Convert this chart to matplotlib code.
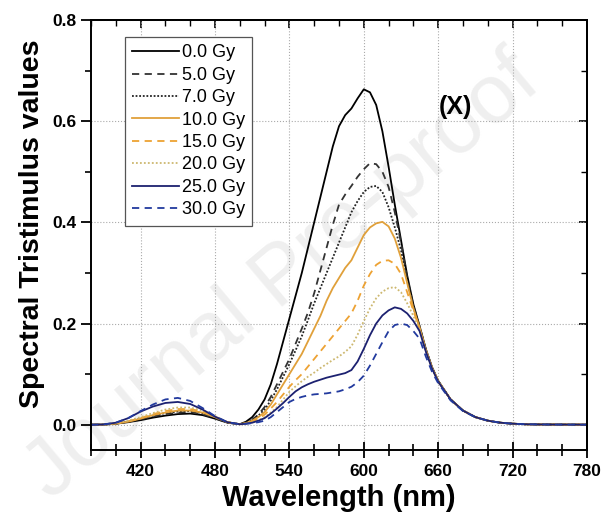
import numpy as np
import matplotlib.pyplot as plt
from matplotlib.ticker import MultipleLocator

plt.rcParams['font.family'] = ['Liberation Sans', 'DejaVu Sans']

# wavelength grid (nm): 10 nm in the blue lobe, 5 nm across the main peak, 10 nm in the tail
wl = list(range(380, 500, 10)) + list(range(500, 665, 5)) + list(range(670, 790, 10))

gy_0 = [0, 0.0003, 0.002, 0.005, 0.009, 0.014, 0.018, 0.021, 0.022, 0.019, 0.012, 0.004,
        0.001, 0.006, 0.015, 0.03, 0.05, 0.08, 0.12, 0.165, 0.21, 0.255,
        0.30, 0.35, 0.40, 0.45, 0.50, 0.55, 0.59, 0.612, 0.625, 0.645,
        0.663, 0.657, 0.632, 0.58, 0.51, 0.435, 0.365, 0.295, 0.238, 0.195,
        0.15, 0.114, 0.087,
        0.05, 0.028, 0.015, 0.008, 0.004, 0.002, 0.001, 0.0006, 0.0004, 0.0003, 0.0002, 0.0001]
gy_5 = [0, 0.0003, 0.002, 0.006, 0.011, 0.016, 0.021, 0.024, 0.025, 0.021, 0.013, 0.004,
        0.001, 0.004, 0.01, 0.02, 0.035, 0.055, 0.08, 0.105, 0.13, 0.16,
        0.19, 0.222, 0.26, 0.305, 0.35, 0.395, 0.435, 0.455, 0.472, 0.49,
        0.505, 0.517, 0.515, 0.5, 0.47, 0.42, 0.36, 0.29, 0.235, 0.194,
        0.149, 0.113, 0.086,
        0.05, 0.028, 0.015, 0.008, 0.004, 0.002, 0.001, 0.0006, 0.0004, 0.0003, 0.0002, 0.0001]
gy_7 = [0, 0.0003, 0.002, 0.006, 0.012, 0.018, 0.023, 0.026, 0.027, 0.023, 0.014, 0.005,
        0.001, 0.004, 0.01, 0.018, 0.03, 0.048, 0.07, 0.095, 0.12, 0.147,
        0.175, 0.207, 0.24, 0.27, 0.30, 0.33, 0.36, 0.39, 0.42, 0.442,
        0.46, 0.47, 0.472, 0.46, 0.43, 0.39, 0.345, 0.285, 0.232, 0.193,
        0.148, 0.113, 0.086,
        0.05, 0.028, 0.015, 0.008, 0.004, 0.002, 0.001, 0.0006, 0.0004, 0.0003, 0.0002, 0.0001]
gy_10 = [0, 0.0003, 0.002, 0.006, 0.012, 0.019, 0.024, 0.028, 0.028, 0.024, 0.015, 0.005,
         0.001, 0.003, 0.008, 0.015, 0.025, 0.04, 0.06, 0.08, 0.10, 0.12,
         0.14, 0.165, 0.19, 0.215, 0.245, 0.27, 0.29, 0.31, 0.325, 0.35,
         0.375, 0.39, 0.398, 0.401, 0.392, 0.368, 0.33, 0.28, 0.23, 0.192,
         0.148, 0.113, 0.086,
         0.05, 0.028, 0.015, 0.008, 0.004, 0.002, 0.001, 0.0006, 0.0004, 0.0003, 0.0002, 0.0001]
gy_15 = [0, 0.0004, 0.003, 0.007, 0.013, 0.021, 0.027, 0.031, 0.031, 0.026, 0.016, 0.005,
         0.001, 0.003, 0.006, 0.012, 0.02, 0.032, 0.045, 0.06, 0.075, 0.088,
         0.10, 0.115, 0.13, 0.145, 0.16, 0.175, 0.19, 0.205, 0.22, 0.245,
         0.275, 0.298, 0.316, 0.324, 0.325, 0.318, 0.298, 0.262, 0.225, 0.19,
         0.147, 0.112, 0.086,
         0.05, 0.028, 0.015, 0.008, 0.004, 0.002, 0.001, 0.0006, 0.0004, 0.0003, 0.0002, 0.0001]
gy_20 = [0, 0.0004, 0.003, 0.008, 0.015, 0.023, 0.03, 0.034, 0.034, 0.028, 0.017, 0.005,
         0.001, 0.002, 0.005, 0.009, 0.015, 0.024, 0.035, 0.05, 0.065, 0.076,
         0.086, 0.095, 0.103, 0.112, 0.12, 0.128, 0.135, 0.144, 0.155, 0.178,
         0.205, 0.23, 0.25, 0.263, 0.27, 0.272, 0.262, 0.24, 0.215, 0.187,
         0.146, 0.112, 0.086,
         0.05, 0.028, 0.015, 0.008, 0.004, 0.002, 0.001, 0.0006, 0.0004, 0.0003, 0.0002, 0.0001]
gy_25 = [0, 0.0005, 0.004, 0.013, 0.026, 0.036, 0.043, 0.045, 0.041, 0.03, 0.016, 0.005,
         0.001, 0.002, 0.004, 0.008, 0.013, 0.022, 0.032, 0.043, 0.055, 0.066,
         0.074, 0.08, 0.085, 0.089, 0.093, 0.096, 0.099, 0.102, 0.108, 0.125,
         0.15, 0.177, 0.2, 0.216, 0.226, 0.232, 0.229, 0.22, 0.205, 0.185,
         0.145, 0.111, 0.085,
         0.05, 0.028, 0.015, 0.008, 0.004, 0.002, 0.001, 0.0006, 0.0004, 0.0003, 0.0002, 0.0001]
gy_30 = [0, 0.0005, 0.004, 0.013, 0.027, 0.04, 0.05, 0.053, 0.047, 0.033, 0.017, 0.005,
         0.001, 0.002, 0.003, 0.005, 0.008, 0.015, 0.025, 0.035, 0.045, 0.051,
         0.055, 0.058, 0.06, 0.061, 0.062, 0.064, 0.066, 0.07, 0.075, 0.084,
         0.097, 0.117, 0.14, 0.163, 0.185, 0.197, 0.2, 0.197, 0.185, 0.17,
         0.135, 0.105, 0.082,
         0.048, 0.027, 0.015, 0.008, 0.004, 0.002, 0.001, 0.0006, 0.0004, 0.0003, 0.0002, 0.0001]

labels = ['0.0 Gy', '5.0 Gy', '7.0 Gy', '10.0 Gy', '15.0 Gy', '20.0 Gy', '25.0 Gy', '30.0 Gy']
series = [gy_0, gy_5, gy_7, gy_10, gy_15, gy_20, gy_25, gy_30]
colors = ['black', '#333333', '#222222', '#E0A03A', '#EDA233', '#CDB870', '#1C2170', '#223A9E']
styles = ['-', (0, (4, 3)), (0, (1, 1)), '-', (0, (4, 3)), (0, (1, 1.2)), '-', (0, (4, 3))]

fig = plt.figure(figsize=(6.01, 5.22), dpi=100)
ax = fig.add_axes([0.1514, 0.1379, 0.8253, 0.8238])
ax.patch.set_visible(False)

for y, lab, c, ls in zip(series, labels, colors, styles):
    ax.plot(wl, y, color=c, linestyle=ls, linewidth=1.3, label=lab)

ax.set_xlim(380, 780)
ax.set_ylim(-0.05, 0.8)
ax.xaxis.set_major_locator(MultipleLocator(60))
ax.xaxis.set_minor_locator(MultipleLocator(20))
ax.set_xticks([420, 480, 540, 600, 660, 720, 780])
ax.yaxis.set_major_locator(MultipleLocator(0.2))
ax.yaxis.set_minor_locator(MultipleLocator(0.1))
ax.set_yticks([0.0, 0.2, 0.4, 0.6, 0.8])
ax.set_yticklabels(['0.0', '0.2', '0.4', '0.6', '0.8'])

ax.tick_params(axis='x', which='major', direction='inout', length=12, width=1.3, labelsize=12.5, pad=4)
ax.tick_params(axis='x', which='minor', direction='inout', length=8, width=1.2)
ax.tick_params(axis='y', which='major', direction='out', length=7, width=1.3, labelsize=12.5)
ax.tick_params(axis='y', which='minor', direction='out', length=4, width=1.2)
for t in ax.get_xticklabels() + ax.get_yticklabels():
    t.set_fontweight('bold')

top = ax.secondary_xaxis('top')
top.xaxis.set_major_locator(MultipleLocator(60))
top.xaxis.set_minor_locator(MultipleLocator(20))
top.tick_params(which='major', direction='in', length=6, width=1.2, labeltop=False)
top.tick_params(which='minor', direction='in', length=4, width=1.0)
top.set_xticklabels([])
right = ax.secondary_yaxis('right')
right.yaxis.set_major_locator(MultipleLocator(0.2))
right.yaxis.set_minor_locator(MultipleLocator(0.1))
right.tick_params(which='major', direction='in', length=6, width=1.2, labelright=False)
right.tick_params(which='minor', direction='in', length=4, width=1.0)
right.set_yticklabels([])

for sp in list(ax.spines.values()) + [top.spines['top'], right.spines['right']]:
    sp.set_linewidth(1.4)

ax.grid(True, which='major', linestyle=':', color='#aaaaaa', linewidth=0.8)

ax.set_xlabel('Wavelength (nm)', fontsize=21, fontweight='bold', labelpad=4)
ax.set_ylabel('Spectral Tristimulus values', fontsize=20.5, fontweight='bold')
ax.yaxis.set_label_coords(-0.093, 0.526)

ax.text(673.7, 0.628, '(X)', fontsize=18, fontweight='bold', ha='center', va='center')

leg = ax.legend(loc='upper left', bbox_to_anchor=(0.068, 0.96), fontsize=13,
                frameon=True, fancybox=False, edgecolor='#555555', framealpha=1,
                handlelength=2.6, labelspacing=0.3, borderpad=0.4,
                handletextpad=0.15, borderaxespad=0)
leg.get_frame().set_linewidth(0.9)

# faint watermark behind the plot
fig.text(0.47, 0.47, 'Journal Pre-proof', rotation=40, fontsize=60, color='#efefef',
         ha='center', va='center', zorder=-1)

fig.savefig('out.png', dpi=100)
